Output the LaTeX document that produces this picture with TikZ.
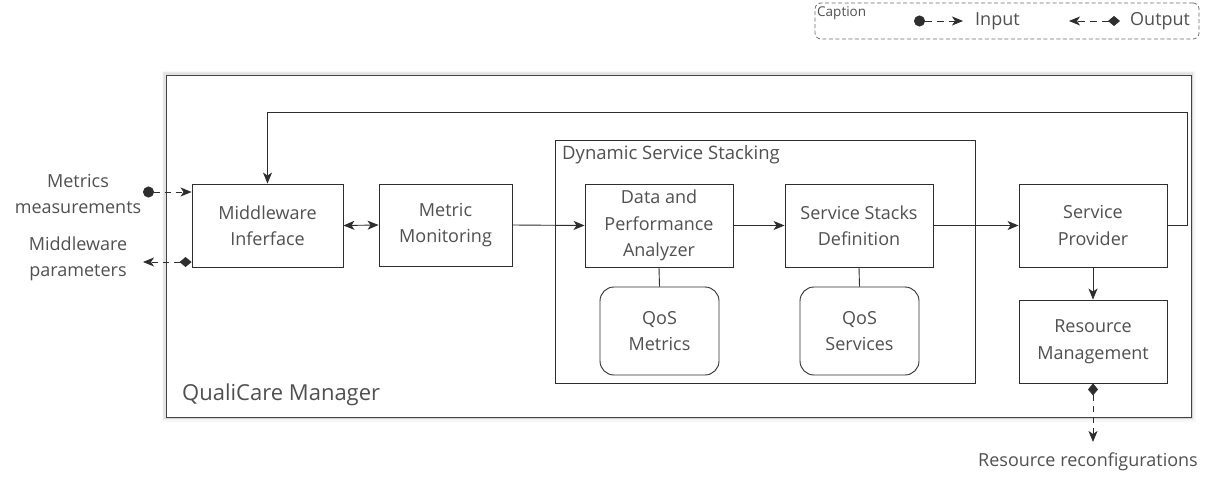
\documentclass[tikz,border=0pt]{standalone}
\usepackage{fontspec}
\setmainfont{Open Sans}
\usetikzlibrary{arrows.meta,positioning,calc}
\definecolor{ink}{HTML}{2E2E2E}
\definecolor{txt}{HTML}{505050}
\tikzset{
  labelfont/.style={font=\fontsize{18}{26.5}\selectfont},
  box/.style={draw=ink, line width=0.9pt, minimum width=148pt, minimum height=83pt,
    align=center, labelfont, text=txt, inner sep=2pt},
  store/.style={box, rounded corners=14pt, minimum width=119pt, minimum height=88pt},
  lbl/.style={align=center, labelfont, text=txt},
  link/.style={draw=ink, line width=0.9pt},
  arr/.style={link, -{Stealth[length=11pt,width=9pt,inset=3pt]}},
  inarr/.style={link, dash pattern=on 6pt off 5pt, {Circle[length=11pt,width=11pt,sep=0pt]}-{Stealth[length=11pt,width=9pt,inset=3pt]}},
  outarr/.style={link, dash pattern=on 6pt off 5pt, {Diamond[length=12pt,width=10pt]}-{Stealth[length=11pt,width=9pt,inset=3pt]}},
}
\begin{document}
\begin{tikzpicture}[x=1pt,y=-1pt]
\useasboundingbox (0,0) rectangle (1207,479);

% soft shadow around the manager frame
\foreach \o/\a in {5/0.025,4/0.035,3/0.05,2/0.07,1/0.1}{
  \draw[black, opacity=\a, line width=1.2pt] (166-\o*0.7,75-\o*0.7) rectangle (1191+\o*0.9,417+\o*0.9);
}
\node[draw=ink!90, line width=1pt, fill=white, minimum width=1025pt, minimum height=342pt, inner sep=0pt] (mgr) at (678.5,246) {};
\node[anchor=south west, font=\fontsize{22}{26}\selectfont, text=txt, inner sep=0pt] (mgrlbl) at (182,406) {QualiCare Manager};

% dynamic service stacking frame
\node[draw=ink, line width=0.9pt, minimum width=420pt, minimum height=243pt, inner sep=0pt] (dss) at (765,261.5) {};
\node[anchor=north west, font=\fontsize{18.5}{22}\selectfont, text=txt, inner sep=0pt] (dsslbl) at (562,145) {Dynamic Service Stacking};

% components
\node[box, minimum width=151pt] (mw) at (267.5,225.5) {Middleware\\Inferface};
\node[box, minimum width=133pt, minimum height=82pt] (mm) at (445.5,225) {Metric\\Monitoring};
\node[box] (dpa) at (659,225.5) {Data and\\Performance\\Analyzer};
\node[box] (ssd) at (859,225.5) {Service Stacks\\Definition};
\node[store] (qm) at (659.5,331) {QoS\\Metrics};
\node[store] (qs) at (859.5,331) {QoS\\Services};
\node[box] (sp) at (1093,225.5) {Service\\Provider};
\node[box] (rm) at (1093,341.5) {Resource\\Management};

% data flow
\draw[link, {Stealth[length=11pt,width=9pt,inset=3pt]}-{Stealth[length=11pt,width=9pt,inset=3pt]}] (mw.east) -- (mm.west);
\draw[arr] (mm.east) -- (dpa.west);
\draw[arr] (dpa.east) -- (ssd.west);
\draw[arr] (ssd.east) -- (sp.west);
\draw[arr] (sp.south) -- (rm.north);
\draw[link] (dpa.south) -- (qm.north);
\draw[link] (ssd.south) -- (qs.north);

% feedback loop
\coordinate (fb) at (1187,112);
\draw[arr] (sp.east) -| (fb) -| (mw.north);

% external inputs / outputs
\coordinate (mmsrc) at (143,192);
\coordinate (mpdst) at (143,262);
\coordinate (rcdst) at (1093,442);
\draw[inarr] (mmsrc) -- (mw.west |- mmsrc);
\draw[outarr] (mw.west |- mpdst) -- (mpdst);
\draw[outarr] (rm.south) -- (rcdst);
\node[lbl] (mmlbl) at (78,194) {Metrics\\measurements};
\node[lbl] (mplbl) at (78,259) {Middleware\\parameters};
\node[lbl, anchor=north] (rclbl) at (1088,449) {Resource reconfigurations};

% legend
\node[draw=ink!70, dash pattern=on 4pt off 2.5pt, line width=0.8pt, rounded corners=6pt,
  minimum width=384pt, minimum height=36pt, inner sep=0pt] (cap) at (1007,21) {};
\node[anchor=north west, font=\fontsize{13.5}{16}\selectfont, text=txt, inner sep=0pt] (captxt) at (817,6) {Caption};
\coordinate (inA) at (914,21);
\coordinate (inB) at (963,21);
\draw[inarr, dash pattern=on 7pt off 5pt] (inA) -- (inB);
\node[lbl, anchor=west, inner sep=0pt] (intxt) at (975,21) {Input};
\coordinate (outA) at (1120,21);
\coordinate (outB) at (1069,21);
\draw[outarr, dash pattern=on 7pt off 5pt] (outA) -- (outB);
\node[lbl, anchor=west, inner sep=0pt] (outtxt) at (1130,21) {Output};
\end{tikzpicture}
\end{document}
